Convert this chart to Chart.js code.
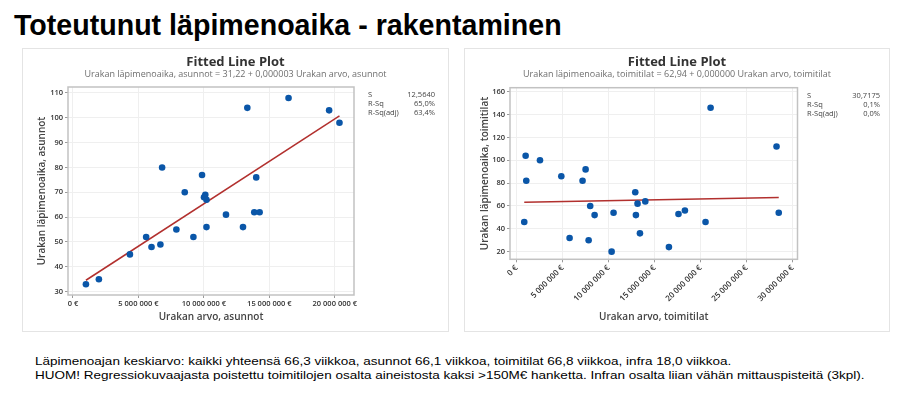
<!DOCTYPE html>
<html><head><meta charset="utf-8">
<script src="https://cdn.jsdelivr.net/npm/chart.js@4.4.1/dist/chart.umd.min.js"></script>
<style>
html,body{margin:0;padding:0;background:#fff;}
body{width:914px;height:393px;position:relative;overflow:hidden;font-family:"Liberation Sans",Arial,sans-serif;}
#title{position:absolute;left:14px;top:9px;font-size:28.6px;font-weight:bold;line-height:32px;color:#000;white-space:nowrap;}
.panel{position:absolute;border:1px solid #e4e4e4;box-sizing:border-box;}
canvas{position:absolute;}
.stats{position:absolute;font-family:"Open Sans",sans-serif;font-size:7.5px;color:#444;line-height:9px;}
.stats div{display:flex;justify-content:space-between;}
#note{position:absolute;left:35px;top:355px;font-size:11.5px;line-height:13.6px;color:#000;white-space:nowrap;transform:scaleX(1.175);transform-origin:0 0;}
</style>
</head><body>
<div id="title">Toteutunut läpimenoaika - rakentaminen</div>
<div class="panel" style="left:22px;top:48px;width:427px;height:284px;"></div>
<div class="panel" style="left:464px;top:48px;width:426px;height:284px;"></div>
<canvas id="c1" width="427" height="284" style="left:22px;top:48px;"></canvas>
<canvas id="c2" width="426" height="284" style="left:464px;top:48px;"></canvas>
<div class="stats" style="left:368px;top:90px;width:67px;">
  <div><span>S</span><span>12,5640</span></div>
  <div><span>R-Sq</span><span>65,0%</span></div>
  <div><span>R-Sq(adj)</span><span>63,4%</span></div>
</div>
<div class="stats" style="left:807px;top:91px;width:73px;">
  <div><span>S</span><span>30,7175</span></div>
  <div><span>R-Sq</span><span>0,1%</span></div>
  <div><span>R-Sq(adj)</span><span>0,0%</span></div>
</div>
<div id="note">Läpimenoajan keskiarvo: kaikki yhteensä 66,3 viikkoa, asunnot 66,1 viikkoa, toimitilat 66,8 viikkoa, infra 18,0 viikkoa.<br>HUOM! Regressiokuvaajasta poistettu toimitilojen osalta aineistosta kaksi &gt;150M€ hanketta. Infran osalta liian vähän mittauspisteitä (3kpl).</div>
<script>
// ---- Data: asunnot (housing) ----
const asunnotArvo = [990000,1980000,4350000,5590000,6000000,6680000,6810000,7900000,8540000,9200000,9860000,10010000,10110000,10200000,10200000,11690000,12990000,13320000,13850000,14000000,14260000,16470000,19570000,20360000];
const asunnotAika = [33,35,45,52,48,49,80,55,70,52,77,68,69,67,56,61,56,104,62,76,62,108,103,98];
const asunnotFitX = [990000,20360000];
const asunnotFitY = [34.6,100.8];
const asunnotXTicks = [0,5000000,10000000,15000000,20000000];
const asunnotYTicks = [30,40,50,60,70,80,90,100,110];

// ---- Data: toimitilat (commercial) ----
const toimitilatArvo = [830000,980000,1050000,2540000,4860000,5760000,7170000,7500000,7830000,8000000,8480000,10330000,10540000,12900000,12970000,13150000,13410000,13990000,16560000,17600000,18300000,20540000,21090000,28260000,28500000];
const toimitilatAika = [46,104,82,100,86,32,82,92,30,60,52,20,54,72,52,62,36,64,24,53,56,46,146,112,54];
const toimitilatFitX = [830000,28500000];
const toimitilatFitY = [63.2,67.3];
const toimitilatXTicks = [0,5000000,10000000,15000000,20000000,25000000,30000000];
const toimitilatYTicks = [20,40,60,80,100,120,140,160];

const FONT = '"Open Sans", sans-serif';
const fmtEur = v => String(Math.round(v)).replace(/\B(?=(\d{3})+(?!\d))/g, ' ') + ' €';

const panelDeco = {
  id: 'panelDeco',
  afterDraw(chart, args, opts) {
    const {ctx, chartArea: a} = chart;
    ctx.save();
    ctx.strokeStyle = '#c2c2c2';
    ctx.lineWidth = 1.5;
    ctx.strokeRect(a.left, a.top, a.right - a.left, a.bottom - a.top);
    ctx.textAlign = 'center';
    ctx.textBaseline = 'middle';
    ctx.fillStyle = '#333';
    ctx.font = 'bold 13px ' + FONT;
    ctx.fillText(opts.title, chart.width / 2, opts.titleY);
    ctx.fillStyle = '#6e6e6e';
    ctx.font = '9px ' + FONT;
    ctx.fillText(opts.subtitle, chart.width / 2, opts.subY);
    ctx.restore();
  }
};

function pts(xs, ys) { return xs.map((x, i) => ({x: x, y: ys[i]})); }

function makeChart(id, g) {
  return new Chart(document.getElementById(id), {
    type: 'scatter',
    data: {
      datasets: [
        {data: pts(g.x, g.y), backgroundColor: '#0a56a8', borderWidth: 0, pointRadius: 3.3, order: 1},
        {type: 'line', data: pts(g.fx, g.fy), borderColor: '#b2302e', borderWidth: 1.5, pointRadius: 0, fill: false, order: 2}
      ]
    },
    plugins: [panelDeco],
    options: {
      responsive: false,
      animation: false,
      layout: {padding: {left: 0, right: g.padRight, top: g.top, bottom: 0}},
      plugins: {
        legend: {display: false},
        tooltip: {enabled: false},
        panelDeco: {title: 'Fitted Line Plot', subtitle: g.subtitle, titleY: 14.3, subY: 26.6}
      },
      scales: {
        x: {
          type: 'linear', min: g.xmin, max: g.xmax,
          afterBuildTicks: s => { s.ticks = g.xticks.map(v => ({value: v})); },
          afterFit: s => { s.height = g.xHeight; },
          grid: {color: '#efefef', tickColor: '#9a9a9a', tickLength: 3, lineWidth: 1},
          border: {display: false},
          ticks: {
            callback: v => fmtEur(v), color: '#333', padding: 1,
            font: {family: FONT, size: g.xTickSize, weight: '600'},
            maxRotation: g.rot, minRotation: g.rot, autoSkip: false
          },
          title: {display: true, text: g.xtitle, color: '#444', font: {family: FONT, size: 10, weight: '600'}, padding: {top: 0, bottom: 9}}
        },
        y: {
          type: 'linear', min: g.ymin, max: g.ymax,
          afterBuildTicks: s => { s.ticks = g.yticks.map(v => ({value: v})); },
          afterFit: s => { s.width = 46; },
          grid: {color: '#efefef', tickColor: '#9a9a9a', tickLength: 3, lineWidth: 1},
          border: {display: false},
          ticks: {color: '#333', padding: 2, font: {family: FONT, size: 7.5, weight: '600'}},
          title: {display: true, text: g.ytitle, color: '#444', font: {family: FONT, size: 10, weight: '600'}, padding: {top: g.yTitlePad, bottom: 0}}
        }
      }
    }
  });
}

makeChart('c1', {
  x: asunnotArvo, y: asunnotAika, fx: asunnotFitX, fy: asunnotFitY,
  xticks: asunnotXTicks, yticks: asunnotYTicks,
  xmin: -380000, xmax: 21470000, ymin: 28.66, ymax: 112.4,
  padRight: 95, top: 39, xHeight: 37, rot: 0, xTickSize: 7.5, yTitlePad: 13.7,
  subtitle: 'Urakan läpimenoaika, asunnot = 31,22 + 0,000003 Urakan arvo, asunnot',
  xtitle: 'Urakan arvo, asunnot', ytitle: 'Urakan läpimenoaika, asunnot'
});

makeChart('c2', {
  x: toimitilatArvo, y: toimitilatAika, fx: toimitilatFitX, fy: toimitilatFitY,
  xticks: toimitilatXTicks, yticks: toimitilatYTicks,
  xmin: -720000, xmax: 30540000, ymin: 13.3, ymax: 163.5,
  padRight: 92.5, top: 39.7, xHeight: 72.7, rot: 45, xTickSize: 8, yTitlePad: 15,
  subtitle: 'Urakan läpimenoaika, toimitilat = 62,94 + 0,000000 Urakan arvo, toimitilat',
  xtitle: 'Urakan arvo, toimitilat', ytitle: 'Urakan läpimenoaika, toimitilat'
});
</script>
</body></html>
